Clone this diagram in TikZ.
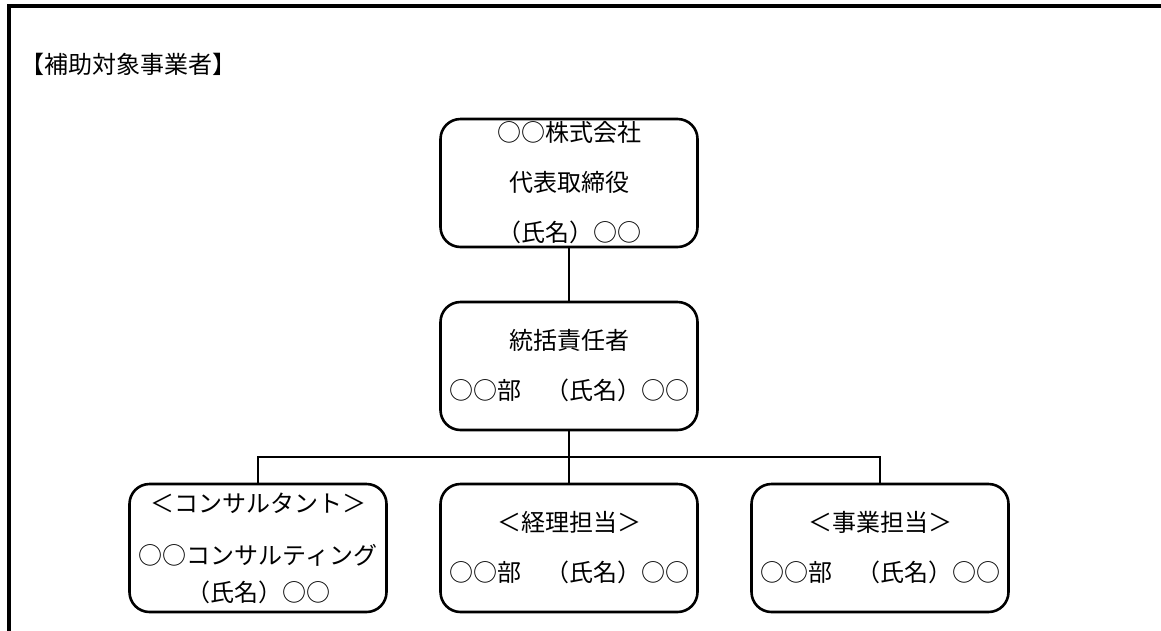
\documentclass[tikz,border=0pt]{standalone}
\usepackage{fontspec}
\setmainfont{Noto Sans CJK JP}
\begin{document}
\begin{tikzpicture}[x=1pt,y=-1pt,
  frame/.style={line width=3.5pt},
  box/.style={draw, line width=2.6pt, rounded corners=20pt, inner sep=0pt,
    minimum width=257pt, minimum height=128pt, align=center,
    font=\fontsize{24pt}{50pt}\selectfont},
  link/.style={line width=2.6pt},
  title/.style={anchor=west, inner sep=0pt, font=\fontsize{24pt}{28pt}\selectfont}]
\useasboundingbox (0,0) rectangle (1161,630);
\fill[white] (0,0) rectangle (1161,630);
\draw[frame] (9,632) -- (9,6) -- (1163,6);
\node[title] (head) at (20,64) {【補助対象事業者】};
\node[box] (ceo) at (569,183) {○○株式会社\\代表取締役\\（氏名）○○};
\node[box] (mgr) at (569,366) {統括責任者\\○○部　（氏名）○○};
\node[box, font=\fontsize{24pt}{37pt}\selectfont] (cons) at (258,548) {＜コンサルタント＞\\[15pt]○○コンサルティング\\（氏名）○○};
\node[box] (acc) at (569,548) {＜経理担当＞\\○○部　（氏名）○○};
\node[box] (biz) at (880,548) {＜事業担当＞\\○○部　（氏名）○○};
\coordinate (j) at (569,457);
\draw[link] (ceo.south) -- (mgr.north);
\draw[link] (mgr.south) -- (acc.north);
\draw[link] (cons.north) |- (j) -| (biz.north);
\end{tikzpicture}
\end{document}
